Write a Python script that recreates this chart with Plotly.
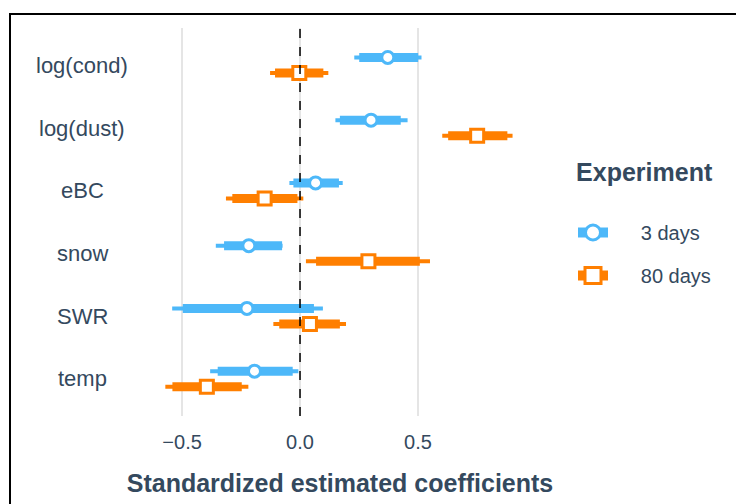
import plotly.graph_objects as go

categories = ["log(cond)", "log(dust)", "eBC", "snow", "SWR", "temp"]
experiments = ["3 days", "80 days"]

est_3 = [0.372, 0.301, 0.066, -0.217, -0.225, -0.193]
lo95_3 = [0.230, 0.150, -0.045, -0.357, -0.542, -0.381]
hi95_3 = [0.515, 0.456, 0.181, -0.074, 0.097, -0.007]
lo_in_3 = [0.251, 0.169, -0.028, -0.322, -0.497, -0.349]
hi_in_3 = [0.501, 0.427, 0.165, -0.076, 0.059, -0.031]

est_80 = [-0.003, 0.751, -0.150, 0.290, 0.042, -0.395]
lo95_80 = [-0.127, 0.603, -0.314, 0.025, -0.113, -0.571]
hi95_80 = [0.120, 0.901, 0.014, 0.551, 0.195, -0.219]
lo_in_80 = [-0.106, 0.628, -0.287, 0.068, -0.088, -0.541]
hi_in_80 = [0.099, 0.879, -0.011, 0.508, 0.169, -0.247]

x_ticks = [-0.5, 0.0, 0.5]
x_ticklabels = ["\u22120.5", "0.0", "0.5"]

BLUE = "#4DB8F9"
ORANGE = "#FF7F00"
TEXT = "#34495E"
FONT = "Liberation Sans, Arial, sans-serif"

series = [
    ("3 days", est_3, lo95_3, hi95_3, lo_in_3, hi_in_3, BLUE, "circle", 12, 0.125),
    ("80 days", est_80, lo95_80, hi95_80, lo_in_80, hi_in_80, ORANGE, "square", 13, -0.125),
]

n = len(categories)
base_y = [n - 1 - i for i in range(n)]

fig = go.Figure()
for name, est, lo, hi, lo_in, hi_in, col, sym, msize, off in series:
    ys = [b + off for b in base_y]
    xt, yt, xk, yk = [], [], [], []
    for i in range(n):
        xt += [lo[i], hi[i], None]
        yt += [ys[i], ys[i], None]
        xk += [lo_in[i], hi_in[i], None]
        yk += [ys[i], ys[i], None]
    fig.add_trace(go.Scatter(x=xt, y=yt, mode="lines", line=dict(color=col, width=4),
                             showlegend=False, hoverinfo="skip"))
    fig.add_trace(go.Scatter(x=xk, y=yk, mode="lines", line=dict(color=col, width=9),
                             showlegend=False, hoverinfo="skip"))
    fig.add_trace(go.Scatter(x=est, y=ys, mode="markers",
                             marker=dict(symbol=sym, size=msize, color="white",
                                         line=dict(color=col, width=3)),
                             showlegend=False, name=name))
    fig.add_trace(go.Scatter(x=[None], y=[None], mode="lines+markers",
                             name="\u00a0" * 5 + name,
                             legendgroup=name,
                             line=dict(color=col, width=11),
                             marker=dict(symbol=sym, size=msize + 3, color="white",
                                         line=dict(color=col, width=3))))

# page body has an 8px offset; compensate so the plot lands where the reference has it
OFF = 8
L, T = 150 - OFF, 28 - OFF
W, H = 744, 504
R = W - 530 + OFF
B = H - 416 + OFF
pw, ph = W - L - R, H - T - B

# vertical dashed zero line
fig.add_shape(type="line", x0=0, x1=0, xref="x", y0=0, y1=1, yref="paper",
              line=dict(color="black", width=1.5, dash="dash"))

# outer frame (partially cropped)
fig.add_shape(type="rect", xref="paper", yref="paper",
              x0=(10 - OFF - L) / pw, x1=(W + 20 - L) / pw,
              y0=-(H + 20 - T - ph) / ph, y1=(T + ph - (14 - OFF)) / ph,
              line=dict(color="black", width=2))

for i, c in enumerate(categories):
    fig.add_annotation(x=(82 - OFF - L) / pw, xref="paper", y=base_y[i], yref="y",
                       text=c, showarrow=False, xanchor="center", yanchor="middle",
                       font=dict(family=FONT, size=22, color=TEXT))

fig.update_layout(
    width=W, height=H,
    margin=dict(l=L, r=R, t=T, b=B, autoexpand=False),
    paper_bgcolor="white", plot_bgcolor="white",
    font=dict(family=FONT, size=20, color=TEXT),
    xaxis=dict(range=[-0.636, 0.975], tickvals=x_ticks, ticktext=x_ticklabels,
               showgrid=True, gridcolor="#E5E5E5", gridwidth=2, zeroline=False,
               showline=False, ticks="", ticklabelstandoff=12,
               title=dict(text="Standardized estimated coefficients",
                          font=dict(size=25, weight="bold", color=TEXT), standoff=22),
               automargin=False, fixedrange=True),
    yaxis=dict(range=[-0.59, n - 1 + 0.594], showticklabels=False, showgrid=False,
               zeroline=False, showline=False, ticks="", automargin=False),
    legend=dict(x=(573 - OFF - L) / pw, xanchor="left", y=(416 - 148) / ph, yanchor="top",
                title=dict(text="Experiment<br> ", side="top center",
                           font=dict(size=25, weight="bold", color=TEXT)),
                font=dict(size=20, color=TEXT), tracegroupgap=14,
                bgcolor="rgba(0,0,0,0)"),
    showlegend=True,
)

fig.write_html("out.html")
